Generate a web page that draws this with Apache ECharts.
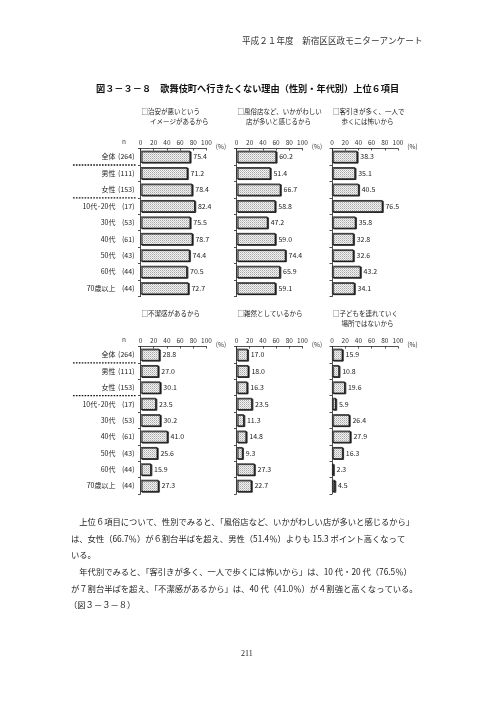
<!DOCTYPE html>
<html>
<head>
<meta charset="utf-8">
<script src="https://cdn.jsdelivr.net/npm/echarts@6/dist/echarts.min.js"></script>
<style>
  html, body { margin: 0; padding: 0; background: #fff; }
  #main { width: 496px; height: 702px; }
</style>
</head>
<body>
<div id="main"></div>
<script>
// categories and sample sizes
var categories = ['全体', '男性', '女性', '10代･20代', '30代', '40代', '50代', '60代', '70歳以上'];
var nCounts = [264, 111, 153, 17, 53, 61, 43, 44, 44];

// top 6 reasons (%)
var chian     = [75.4, 71.2, 78.4, 82.4, 75.5, 78.7, 74.4, 70.5, 72.7];
var fuzoku    = [60.2, 51.4, 66.7, 58.8, 47.2, 59.0, 74.4, 65.9, 59.1];
var kyakuhiki = [38.3, 35.1, 40.5, 76.5, 35.8, 32.8, 32.6, 43.2, 34.1];
var fuketsu   = [28.8, 27.0, 30.1, 23.5, 30.2, 41.0, 25.6, 15.9, 27.3];
var zatsuzen  = [17.0, 18.0, 16.3, 23.5, 11.3, 14.8,  9.3, 27.3, 22.7];
var kodomo    = [15.9, 10.8, 19.6,  5.9, 26.4, 27.9, 16.3,  2.3,  4.5];

var tickLabels = [0, 20, 40, 60, 80, 100];

var panelTitles = [
  ['□治安が悪いという', 'イメージがあるから'],
  ['□風俗店など、いかがわしい', '店が多いと感じるから'],
  ['□客引きが多く、一人で', '歩くには怖いから'],
  ['□不潔感があるから'],
  ['□雑然としているから'],
  ['□子どもを連れていく', '場所ではないから']
];
var panelData = [chian, fuzoku, kyakuhiki, fuketsu, zatsuzen, kodomo];

var FONT = "'Noto Sans CJK JP', sans-serif";
var PANEL_X = [140.5, 236.5, 332];
var PANEL_W = 66;
var ROW_TOP = [148.5, 346.5];
var ROW_H = [148, 147.5];
var TITLE_Y = [112, 314];

// dotted fill for the bars
var pat = document.createElement('canvas');
pat.width = 2; pat.height = 2;
var pc = pat.getContext('2d');
pc.fillStyle = '#f2f2f2'; pc.fillRect(0, 0, 2, 2);
pc.fillStyle = '#a8a8a8'; pc.fillRect(0, 0, 1, 1);
pc.fillStyle = '#cacaca'; pc.fillRect(1, 1, 1, 1);

var grids = [], xAxes = [], yAxes = [], series = [], graphics = [];

panelData.forEach(function (vals, i) {
  var row = i < 3 ? 0 : 1, col = i % 3;
  grids.push({
    left: PANEL_X[col], top: ROW_TOP[row], width: PANEL_W, height: ROW_H[row]
  });
  xAxes.push({
    gridIndex: i, type: 'value', position: 'top',
    min: tickLabels[0], max: tickLabels[tickLabels.length - 1], interval: 20,
    name: '(%)', nameLocation: 'end', nameGap: -1,
    nameTextStyle: { fontSize: 6.5, color: '#333', fontFamily: FONT, verticalAlign: 'bottom', padding: [0, 0, -1, 0] },
    axisLine: { show: true, lineStyle: { color: '#222', width: 0.8 } },
    axisTick: { show: true, inside: true, length: 2, lineStyle: { color: '#222', width: 0.8 } },
    axisLabel: { fontSize: 6.5, color: '#333', margin: 3, fontFamily: FONT },
    splitLine: { show: false }
  });
  yAxes.push({
    gridIndex: i, type: 'category', inverse: true, data: categories,
    axisLine: { show: true, lineStyle: { color: '#222', width: 0.8 } },
    axisTick: { show: true, length: 2.5, lineStyle: { color: '#222', width: 0.8 } },
    axisLabel: {
      show: col === 0, margin: 6, fontFamily: FONT,
      formatter: function (v, idx) { return '{a|' + v + '}{b|(' + nCounts[idx] + ')}'; },
      rich: {
        a: { fontSize: 7, color: '#222', width: 50, align: 'right', fontFamily: FONT },
        b: { fontSize: 7, color: '#222', width: 19, align: 'right', fontFamily: FONT }
      }
    }
  });
  series.push({
    type: 'bar', xAxisIndex: i, yAxisIndex: i, data: vals, barWidth: 12,
    itemStyle: {
      color: { image: pat, repeat: 'repeat' },
      borderColor: '#111', borderWidth: 0.8,
      shadowColor: 'rgba(0,0,0,0.85)', shadowOffsetX: 1.2, shadowOffsetY: 0.8, shadowBlur: 0
    },
    label: {
      show: true, position: 'right', distance: 3, fontSize: 7, color: '#222', fontFamily: FONT,
      formatter: function (p) { return p.value.toFixed(1); }
    },
    silent: true, animation: false
  });

  // panel title
  panelTitles[i].forEach(function (t, k) {
    graphics.push({
      type: 'text', left: PANEL_X[col] + (k === 0 ? 1 : 9.5), top: TITLE_Y[row] + k * 10 - 4,
      style: { text: t, fontSize: 6.5, fill: '#222', fontFamily: FONT }
    });
  });
});

// "n" headers and dotted separators
[0, 1].forEach(function (row) {
  var top = ROW_TOP[row], slot = ROW_H[row] / categories.length;
  graphics.push({
    type: 'text', left: 122, top: top - 10,
    style: { text: 'n', fontSize: 6.5, fill: '#333', fontFamily: FONT }
  });
  [1, 3].forEach(function (k) {
    var y = top + slot * k;
    graphics.push({
      type: 'line', shape: { x1: 73, y1: y, x2: 136, y2: y },
      style: { stroke: '#111', lineWidth: 1.4, lineDash: [1.6, 1.3] }
    });
  });
});

var paragraph = [
  ['　上位６項目について、性別でみると、「風俗店など、いかがわしい店が多いと感じるから」', 71],
  ['は、女性（66.7％）が６割台半ばを超え、男性（51.4％）よりも 15.3 ポイント高くなって', 71],
  ['いる。', 71],
  ['　年代別でみると、「客引きが多く、一人で歩くには怖いから」は、10 代・20 代（76.5％）', 71],
  ['が７割台半ばを超え、「不潔感があるから」は、40 代（41.0％）が４割強と高くなっている。', 71],
  ['（図３－３－８）', 69]
];
paragraph.forEach(function (p, k) {
  graphics.push({
    type: 'text', left: p[1], top: 518 + k * 16.6,
    style: { text: p[0], fontSize: 8.3, fill: '#222', fontFamily: FONT }
  });
});

graphics.push(
  { type: 'text', left: 242, top: 36,
    style: { text: '平成２１年度　新宿区区政モニターアンケート', fontSize: 8.6, fill: '#333', fontFamily: FONT } },
  { type: 'text', left: 96, top: 84,
    style: { text: '図３－３－８　歌舞伎町へ行きたくない理由（性別・年代別）上位６項目', fontSize: 9.2, fontWeight: 'bold', fill: '#111', fontFamily: FONT } },
  { type: 'text', left: 241, top: 650,
    style: { text: '211', fontSize: 8, fill: '#222', fontFamily: "'Liberation Serif', serif" } }
);

var myChart = echarts.init(document.getElementById('main'));
myChart.setOption({
  backgroundColor: '#fff',
  animation: false,
  grid: grids,
  xAxis: xAxes,
  yAxis: yAxes,
  series: series,
  graphic: graphics
});
</script>
</body>
</html>
